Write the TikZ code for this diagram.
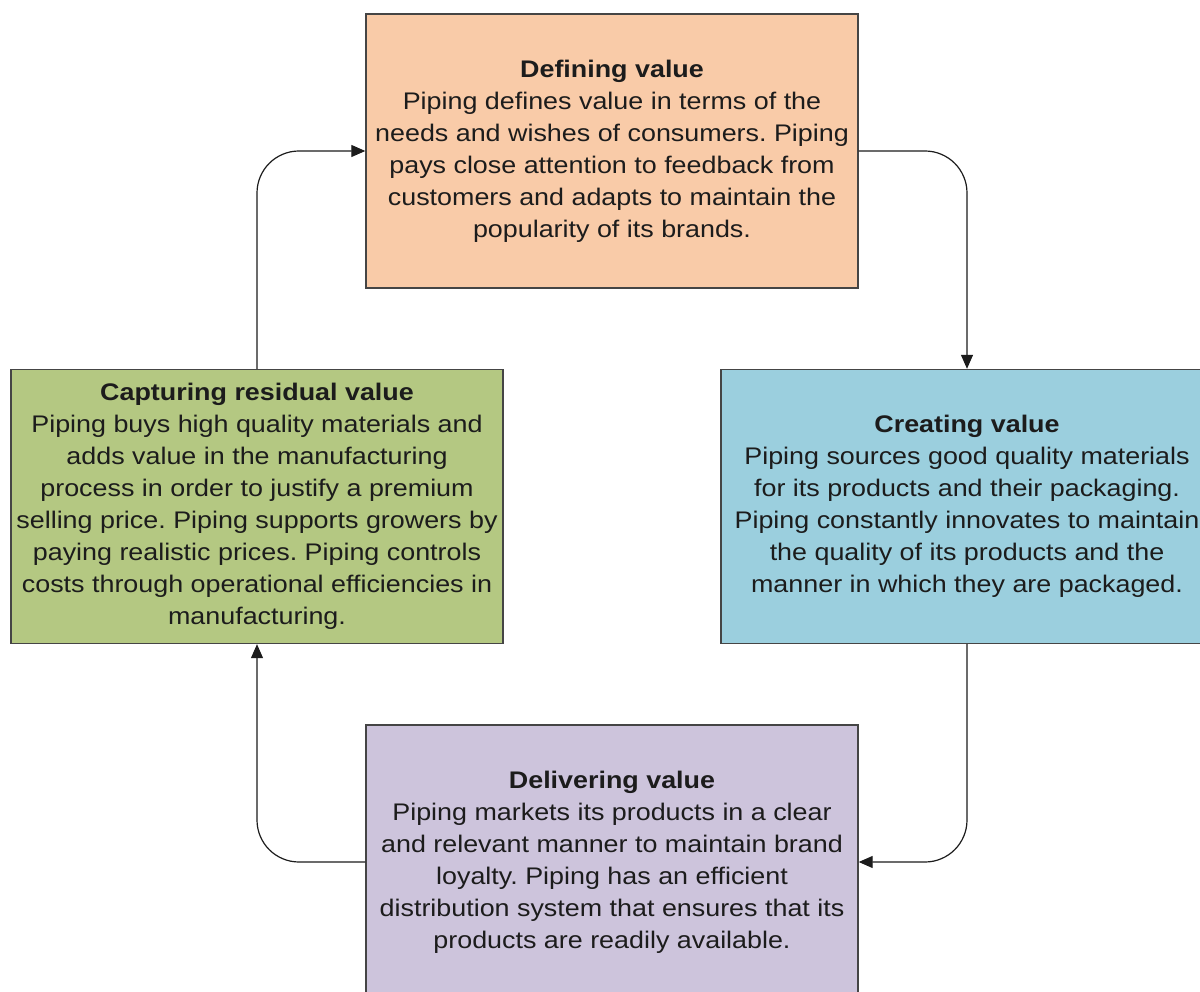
\documentclass[tikz,border=0pt]{standalone}
\usepackage{fontspec}
\setmainfont{Liberation Sans}[FakeStretch=1.12]
\frenchspacing
\usetikzlibrary{arrows.meta}
\definecolor{defcol}{HTML}{F9CBA8}
\definecolor{crecol}{HTML}{9BCFDE}
\definecolor{capcol}{HTML}{B4C882}
\definecolor{delcol}{HTML}{CDC4DC}
\definecolor{edgecol}{HTML}{454545}
\definecolor{inkcol}{HTML}{1C1C1C}
\begin{document}
\begin{tikzpicture}[x=1pt,y=-1pt,
  stagebox/.style={draw=edgecol, line width=1.4pt, rectangle, inner sep=0pt,
    minimum width=492pt, minimum height=274pt, align=center, text=inkcol,
    font=\fontsize{24}{32}\selectfont\frenchspacing},
  conn/.style={draw=inkcol, line width=1.2pt, rounded corners=42pt,
    -{Triangle[length=14pt,width=12pt]}}]
\useasboundingbox (0,0) rectangle (1200,992);
\clip (0,0) rectangle (1200,992);
\fill[white] (0,0) rectangle (1200,992);

\node[stagebox, fill=defcol] (def) at (612,151)
  {\textbf{Defining value}\\
   Piping defines value in terms of the\\
   needs and wishes of consumers. Piping\\
   pays close attention to feedback from\\
   customers and adapts to maintain the\\
   popularity of its brands.};

\node[stagebox, fill=crecol] (cre) at (967,506.5)
  {\textbf{Creating value}\\
   Piping sources good quality materials\\
   for its products and their packaging.\\
   Piping constantly innovates to maintain\\
   the quality of its products and the\\
   manner in which they are packaged.};

\node[stagebox, fill=capcol] (cap) at (257,506.5)
  {\textbf{Capturing residual value}\\
   Piping buys high quality materials and\\
   adds value in the manufacturing\\
   process in order to justify a premium\\
   selling price. Piping supports growers by\\
   paying realistic prices. Piping controls\\
   costs through operational efficiencies in\\
   manufacturing.};

\node[stagebox, fill=delcol] (del) at (612,862)
  {\textbf{Delivering value}\\
   Piping markets its products in a clear\\
   and relevant manner to maintain brand\\
   loyalty. Piping has an efficient\\
   distribution system that ensures that its\\
   products are readily available.};

\draw[conn] (cap.north) |- (def.west);
\draw[conn] (def.east) -| (cre.north);
\draw[conn] (cre.south) |- (del.east);
\draw[conn] (del.west) -| (cap.south);
\end{tikzpicture}
\end{document}
